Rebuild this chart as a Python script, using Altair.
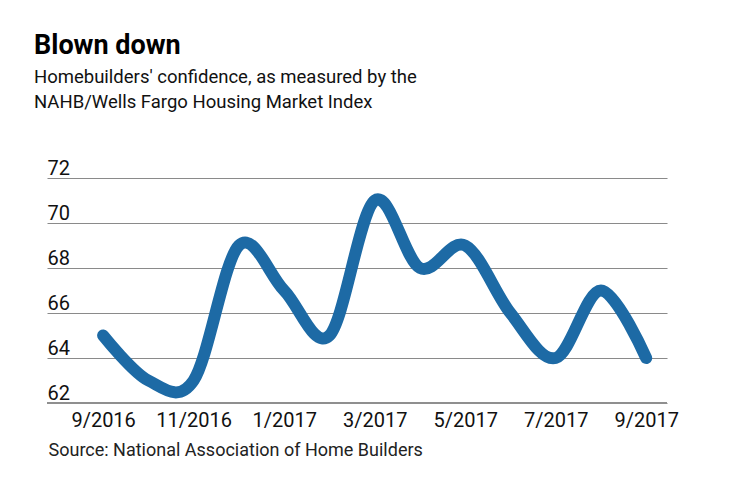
import altair as alt
import pandas as pd

months = ["9/2016", "10/2016", "11/2016", "12/2016", "1/2017", "2/2017", "3/2017",
          "4/2017", "5/2017", "6/2017", "7/2017", "8/2017", "9/2017"]
index_values = [65, 63, 63, 69, 67, 65, 71, 68, 69, 66, 64, 67, 64]
tick_months = [0, 2, 4, 6, 8, 10, 12]
y_ticks = [62, 64, 66, 68, 70, 72]
baseline_value = [62]

df = pd.DataFrame({"i": list(range(len(months))), "month": months, "value": index_values})
base_df = pd.DataFrame({"value": baseline_value})

label_expr = "[" + ",".join(f"'{m}'" for m in months) + "][datum.value]"

xscale = alt.Scale(domain=[-1.24, 12.46], nice=False, zero=False)
yscale = alt.Scale(domain=[62, 72], nice=False, zero=False)

base_rule = alt.Chart(base_df).mark_rule(color="#8f8f8f", strokeWidth=2).encode(
    y=alt.Y("value:Q", scale=yscale)
)

line = alt.Chart(df).mark_line(
    interpolate="cardinal", strokeWidth=12, color="#1d6aa5",
    strokeCap="round", strokeJoin="round"
).encode(
    x=alt.X("i:Q", scale=xscale,
            axis=alt.Axis(values=tick_months, labelExpr=label_expr, grid=False,
                          domain=False, ticks=False, tickSize=0, labelPadding=7,
                          labelFontSize=20, labelFont="Roboto", labelColor="#111",
                          labelFlush=False,
                          title="Source: National Association of Home Builders",
                          titleFont="Roboto", titleFontSize=18, titleFontWeight="normal",
                          titleColor="#222", titleAnchor="start", titleAlign="left",
                          titleBaseline="alphabetic", titleX=1, titleY=52)),
    y=alt.Y("value:Q", scale=yscale,
            axis=alt.Axis(values=y_ticks, grid=True, gridColor="#8a8a8a", gridWidth=1.2,
                          domain=False, ticks=False, tickSize=0, labelAlign="left",
                          labelPadding=0, labelBaseline="alphabetic", labelOffset=-4,
                          labelFontSize=20, labelFont="Roboto", labelColor="#111",
                          title=None))
)

chart = alt.layer(base_rule, line).properties(
    width=620, height=225,
    title=alt.Title("Blown down",
                    subtitle=["Homebuilders' confidence, as measured by the",
                              "NAHB/Wells Fargo Housing Market Index"],
                    anchor="start", frame="group", dx=-13, offset=46,
                    font="Roboto", fontSize=27, fontWeight="bold", color="#000",
                    subtitleFont="Roboto", subtitleFontSize=18.5, subtitleColor="#111",
                    subtitleLineHeight=25, subtitlePadding=8),
    autosize=alt.AutoSizeParams(type="none"),
    padding={"left": 39, "top": 170, "right": 60, "bottom": 75}
).configure_view(stroke=None)

chart.save("out.html", embed_options={"renderer": "svg", "actions": False})
